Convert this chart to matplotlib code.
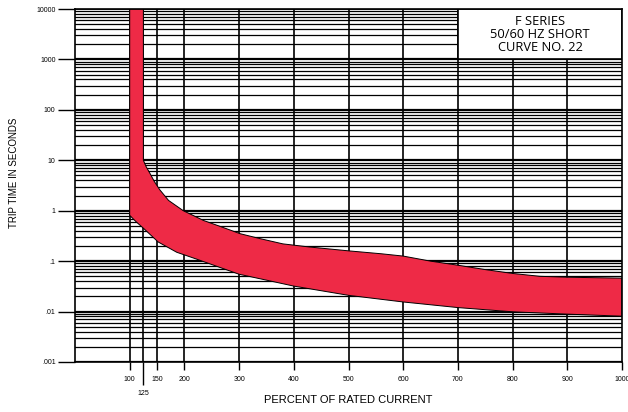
import matplotlib.pyplot as plt
from matplotlib.patches import Rectangle
import numpy as np

plt.rcParams['font.family'] = ['Liberation Sans', 'DejaVu Sans']

# upper (slow) edge of the trip band
upper_pct = [125, 125, 130, 137, 145, 155, 171, 198, 235, 265, 302, 338, 380, 430, 500, 560, 600, 650, 700, 750, 800, 850, 900, 1000]
upper_sec = [10000, 10, 7.5, 5.5, 3.8, 2.6, 1.6, 1.0, 0.64, 0.49, 0.35, 0.28, 0.22, 0.19, 0.16, 0.14, 0.126, 0.10, 0.083, 0.068, 0.057, 0.050, 0.048, 0.046]

# lower (fast) edge of the trip band
lower_pct = [100, 100, 112, 125, 152, 186, 222, 265, 300, 350, 400, 500, 600, 700, 800, 900, 1000]
lower_sec = [10000, 0.81, 0.6, 0.45, 0.24, 0.15, 0.11, 0.075, 0.055, 0.042, 0.032, 0.021, 0.0155, 0.012, 0.0099, 0.0089, 0.0081]

# grid / ticks
decades = [0.001, 0.01, 0.1, 1, 10, 100, 1000, 10000]
decade_labels = ['.001', '.01', '.1', '1', '10', '100', '1000', '10000']
minor_mult = [2, 3, 4, 5, 6, 7, 8, 9]
vlines = [100, 125, 150, 200, 300, 400, 500, 600, 700, 800, 900]
xticks = [100, 150, 200, 300, 400, 500, 600, 700, 800, 900, 1000]

title_lines = "F SERIES\n50/60 HZ SHORT\nCURVE NO. 22"
band_color = '#EE2A46'

fig = plt.figure(figsize=(6.28, 4.12), dpi=100)
ax = fig.add_axes([75/628, 1-362/412, 547/628, 353/412])
ax.set_yscale('log')
ax.set_xlim(0, 1000)
ax.set_ylim(0.001, 10000)

# horizontal log paper lines
for d in decades[:-1]:
    ax.axhline(d, color='black', lw=1.6, zorder=1)
    for m in minor_mult:
        ax.axhline(d*m, color='black', lw=0.9, zorder=1)
ax.axhline(10000, color='black', lw=1.2, zorder=1)

for x in vlines:
    ax.axvline(x, color='black', lw=1.2, zorder=1)

# red band
poly_x = np.concatenate([upper_pct, lower_pct[::-1]])
poly_y = np.concatenate([upper_sec, lower_sec[::-1]])
ax.fill(poly_x, poly_y, facecolor=band_color, edgecolor='black', lw=0.7, zorder=3)

# title box
ax.add_patch(Rectangle((700, 1000), 300, 9000, facecolor='white', edgecolor='black', lw=1.2, zorder=4))
ax.text(850, 3162, title_lines, ha='center', va='center', fontsize=9.3, linespacing=0.98,
        family=['Open Sans', 'DejaVu Sans'], zorder=5)

for s in ax.spines.values():
    s.set_linewidth(1.2)
    s.set_zorder(6)

ax.yaxis.set_minor_locator(plt.NullLocator())
ax.set_yticks(decades, decade_labels)
ax.tick_params(axis='y', length=12, width=1, pad=2, labelsize=5)

ax.set_xticks(xticks, [str(v) for v in xticks])
ax.set_xticks([125], ['125'], minor=True)
ax.tick_params(axis='x', which='major', length=6, width=1, pad=4, labelsize=5)
ax.tick_params(axis='x', which='minor', length=16.5, width=1, pad=4, labelsize=5)

fig.text(14/628, 1-173/412, "TRIP TIME IN SECONDS", rotation=90, ha='center', va='center', fontsize=7)
fig.text(348/628, 1-400/412, "PERCENT OF RATED CURRENT", ha='center', va='center', fontsize=8)

plt.savefig("out.png", dpi=100)
